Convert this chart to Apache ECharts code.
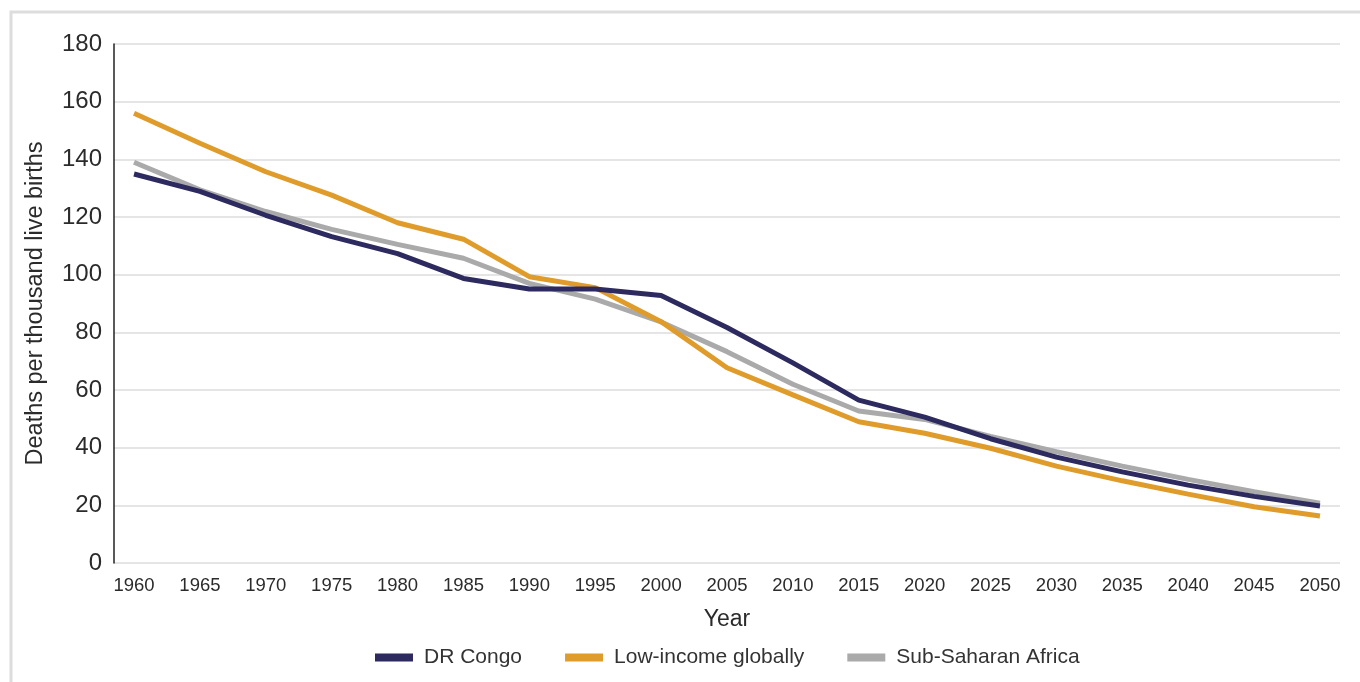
<!DOCTYPE html>
<html>
<head>
<meta charset="utf-8">
<title>Under-five mortality</title>
<script src="https://cdn.jsdelivr.net/npm/echarts@6/dist/echarts.min.js"></script>
<style>
    html, body {
        margin: 0;
        padding: 0;
        background: #fff;
    }
    #chart {
        width: 1360px;
        height: 682px;
    }
</style>
</head>
<body>
<div id="chart"></div>
<script>
// years on the x axis
var years = [1960, 1965, 1970, 1975, 1980, 1985, 1990, 1995, 2000, 2005,
    2010, 2015, 2020, 2025, 2030, 2035, 2040, 2045, 2050];

// deaths per thousand live births
var drCongo = [134.9, 128.9, 120.6, 113.2, 107.3, 98.7, 95.0, 95.0, 92.8, 81.7,
    69.4, 56.5, 50.6, 43.1, 36.7, 31.6, 27.0, 23.1, 19.8];
var lowIncome = [156.0, 145.6, 135.7, 127.6, 118.0, 112.3, 99.3, 95.5, 83.7, 67.7,
    58.3, 49.0, 45.0, 39.8, 33.6, 28.5, 23.9, 19.5, 16.3];
var subSaharan = [139.0, 129.4, 121.9, 115.7, 110.5, 105.7, 97.0, 91.5, 83.6, 73.3,
    62.0, 52.7, 49.8, 43.9, 38.6, 33.6, 29.0, 24.7, 20.7];

var yTicks = [0, 20, 40, 60, 80, 100, 120, 140, 160, 180];

var seriesNames = ["DR Congo", "Low-income globally", "Sub-Saharan Africa"];
var seriesColors = ["#2d2a5f", "#e09c2a", "#aaaaaa"];

function pairs(values) {
    return years.map(function (y, i) {
        return [y, values[i]];
    });
}

var font = "'Liberation Sans', Arial, sans-serif";
var textColor = "#2b2b2b";
var chart = echarts.init(document.getElementById("chart"), null, { renderer: "canvas" });

chart.setOption({
    animation: false,
    textStyle: { fontFamily: font },
    graphic: [
        {
            // light frame around the figure
            type: "rect",
            z: -1,
            shape: { x: 11, y: 12, width: 1400, height: 800 },
            style: { fill: "none", stroke: "#dddddd", lineWidth: 3 },
        },
    ],
    grid: {
        left: 114,
        right: 20,
        top: 44,
        bottom: 119,
    },
    xAxis: {
        type: "value",
        min: 1958.48,
        max: 2051.52,
        name: "Year",
        nameLocation: "middle",
        nameGap: 45,
        nameTextStyle: { fontSize: 23, color: textColor, fontFamily: font },
        axisLine: { show: false },
        axisTick: { show: false },
        splitLine: { show: false },
        axisLabel: {
            customValues: years,
            formatter: function (v) {
                return String(v);
            },
            fontSize: 18.5,
            color: textColor,
            margin: 13,
            fontFamily: font,
        },
    },
    yAxis: {
        type: "value",
        min: yTicks[0],
        max: yTicks[yTicks.length - 1],
        interval: 20,
        name: "Deaths per thousand live births",
        nameLocation: "middle",
        nameGap: 66,
        nameTextStyle: { fontSize: 23.5, color: textColor, fontFamily: font },
        axisLine: { show: true, lineStyle: { color: "#222", width: 1.5 } },
        axisTick: { show: false },
        splitLine: { lineStyle: { color: "#dcdcdc", width: 1.5 } },
        axisLabel: {
            fontSize: 24,
            color: textColor,
            margin: 12,
            fontFamily: font,
        },
    },
    legend: {
        left: 375,
        top: 647,
        padding: 0,
        icon: "rect",
        itemWidth: 38,
        itemHeight: 8,
        itemGap: 43,
        textStyle: { fontSize: 21, color: "#333", fontFamily: font, padding: [0, 0, 0, 6] },
        data: seriesNames,
    },
    series: [
        {
            name: seriesNames[0],
            type: "line",
            data: pairs(drCongo),
            symbol: "none",
            z: 4,
            itemStyle: { color: seriesColors[0] },
            lineStyle: { color: seriesColors[0], width: 5 },
        },
        {
            name: seriesNames[1],
            type: "line",
            data: pairs(lowIncome),
            symbol: "none",
            z: 3,
            itemStyle: { color: seriesColors[1] },
            lineStyle: { color: seriesColors[1], width: 5 },
        },
        {
            name: seriesNames[2],
            type: "line",
            data: pairs(subSaharan),
            symbol: "none",
            z: 2,
            itemStyle: { color: seriesColors[2] },
            lineStyle: { color: seriesColors[2], width: 5 },
        },
    ],
});
</script>
</body>
</html>
